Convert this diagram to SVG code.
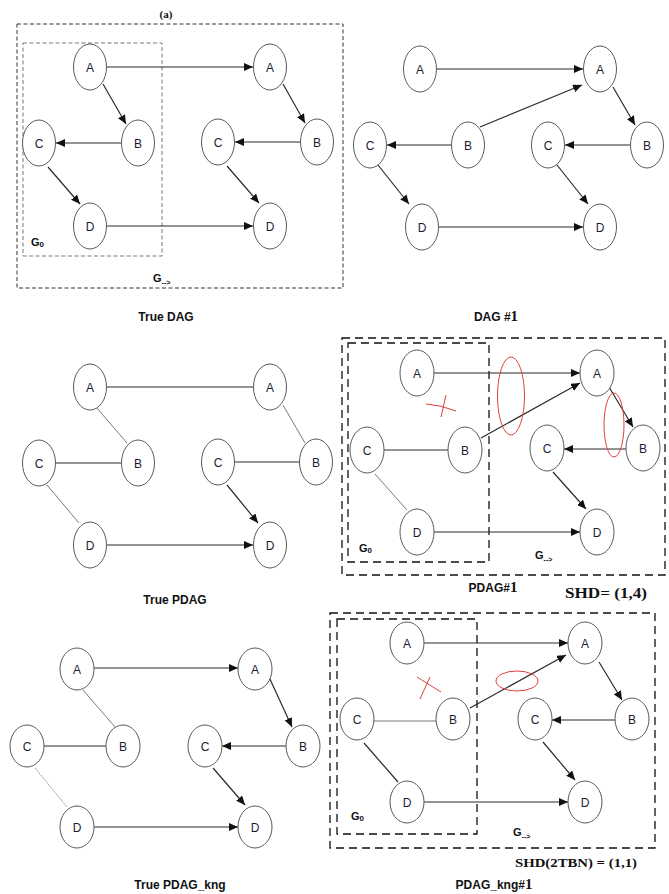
<svg xmlns="http://www.w3.org/2000/svg" width="669" height="894" viewBox="0 0 669 894">
<style>
.bg{fill:#ffffff}
.node ellipse{fill:#ffffff;stroke:#5a5a5a;stroke-width:1}
.node text{font-family:"Liberation Sans","Open Sans",sans-serif;font-size:12px;fill:#1c1c30;text-anchor:middle}
.e{stroke:#2a2a2a;stroke-width:1.2;fill:none}
.d{marker-end:url(#arr)}
.u{stroke:#2a2a2a;stroke-width:1.2}
.ul{stroke:#6a6a6a;stroke-width:0.9}
.dot{stroke:#8a8a8a;stroke-width:0.9;stroke-dasharray:2 1}
.box1{fill:none;stroke:#333;stroke-width:1;stroke-dasharray:4 2.5}
.box1i{fill:none;stroke:#777;stroke-width:1;stroke-dasharray:4 2.5}
.box2{fill:none;stroke:#111;stroke-width:1.3;stroke-dasharray:8 5}
.glab{font-family:"Liberation Sans","Open Sans",sans-serif;font-weight:bold;font-size:11px;fill:#111}
.cap{font-family:"Liberation Sans","Open Sans",sans-serif;font-weight:bold;font-size:12px;fill:#111;text-anchor:middle}
.ser{font-family:"Liberation Serif",serif;font-weight:bold;fill:#111}
.red{fill:none;stroke:#e0403c;stroke-width:1}
</style>
<defs>
<marker id="arr" markerUnits="userSpaceOnUse" viewBox="0 0 9 8" markerWidth="9" markerHeight="8" refX="9" refY="4" orient="auto">
<path d="M0,0 L9,4 L0,8 z" fill="#111"/>
</marker>
</defs>
<rect class="bg" x="0" y="0" width="669" height="894"/>

<!-- Frames and labels -->
<g id="frames">
<text class="ser" x="166" y="18" font-size="11" text-anchor="middle">(a)</text>
<rect class="box1" x="17" y="24" width="326" height="264"/>
<rect class="box1i" x="23" y="43" width="139" height="213"/>
<text class="glab" x="31" y="246">G<tspan font-size="8" dy="1">0</tspan></text>
<text class="glab" x="153" y="282">G<tspan font-size="7" dy="3">--&gt;</tspan></text>

<rect class="box2" x="342" y="338" width="323" height="237"/>
<rect class="box2" x="348" y="343" width="141" height="219"/>
<text class="glab" x="359" y="552">G<tspan font-size="8" dy="1">0</tspan></text>
<text class="glab" x="535" y="559">G<tspan font-size="7" dy="3">--&gt;</tspan></text>

<rect class="box2" x="330" y="613" width="325" height="235"/>
<rect class="box2" x="337" y="619" width="140" height="215"/>
<text class="glab" x="351" y="820">G<tspan font-size="8" dy="1">0</tspan></text>
<text class="glab" x="513" y="836">G<tspan font-size="7" dy="3">--&gt;</tspan></text>
</g>

<g id="captions">
<text class="cap" x="166" y="321">True DAG</text>
<text class="cap" x="496" y="321">DAG #<tspan class="ser" font-size="15">1</tspan></text>
<text class="cap" x="175" y="604">True PDAG</text>
<text class="cap" x="493" y="592">PDAG#<tspan class="ser" font-size="15">1</tspan></text>
<text class="ser" x="565" y="598" font-size="15" textLength="82" lengthAdjust="spacingAndGlyphs">SHD= (1,4)</text>
<text class="cap" x="180" y="889">True PDAG_kng</text>
<text class="cap" x="494" y="889">PDAG_kng#<tspan class="ser" font-size="15">1</tspan></text>
<text class="ser" x="515" y="867" font-size="13" textLength="122" lengthAdjust="spacingAndGlyphs">SHD(2TBN) = (1,1)</text>
</g>

<!-- Connectors -->
<g id="connectors">
<!-- Panel 1: True DAG -->
<line class="e d" x1="107" y1="67" x2="253" y2="67"/>
<line class="e d" x1="103" y1="84" x2="126" y2="124"/>
<line class="e d" x1="121" y1="143" x2="56" y2="143"/>
<line class="e d" x1="48" y1="167" x2="80" y2="204"/>
<line class="e d" x1="107" y1="226" x2="253" y2="226"/>
<line class="e d" x1="283" y1="84" x2="305" y2="123"/>
<line class="e d" x1="300" y1="142" x2="235" y2="142"/>
<line class="e d" x1="227" y1="166" x2="259" y2="203"/>
<!-- Panel 2: DAG #1 -->
<line class="e d" x1="437" y1="69" x2="583" y2="69"/>
<line class="e d" x1="480" y1="127" x2="582" y2="85"/>
<line class="e d" x1="451" y1="145" x2="387" y2="145"/>
<line class="e d" x1="378" y1="165" x2="409" y2="204"/>
<line class="e d" x1="439" y1="227" x2="583" y2="227"/>
<line class="e d" x1="613" y1="87" x2="635" y2="125"/>
<line class="e d" x1="630" y1="145" x2="565" y2="145"/>
<line class="e d" x1="557" y1="165" x2="588" y2="204"/>
<!-- Panel 3: True PDAG -->
<line class="u" x1="107" y1="387" x2="253" y2="387"/>
<line class="ul" x1="96" y1="407" x2="127" y2="443"/>
<line class="u" x1="56" y1="463" x2="121" y2="463"/>
<line class="ul" x1="47" y1="485" x2="79" y2="523"/>
<line class="e d" x1="107" y1="545" x2="253" y2="545"/>
<line class="ul" x1="283" y1="405" x2="305" y2="443"/>
<line class="u" x1="235" y1="462" x2="299" y2="462"/>
<line class="e d" x1="227" y1="485" x2="258" y2="523"/>
<!-- Panel 4: PDAG#1 -->
<line class="e d" x1="434" y1="373" x2="580" y2="373"/>
<line class="e d" x1="481" y1="438" x2="580" y2="383"/>
<line class="u" x1="384" y1="450" x2="448" y2="450"/>
<line class="ul" x1="375" y1="474" x2="407" y2="510"/>
<line class="e d" x1="434" y1="532" x2="580" y2="532"/>
<line class="e d" x1="609" y1="387" x2="633" y2="427"/>
<line class="e d" x1="626" y1="449" x2="564" y2="449"/>
<line class="e d" x1="553" y1="472" x2="586" y2="509"/>
<!-- Panel 5: True PDAG_kng -->
<line class="e d" x1="94" y1="668" x2="238" y2="668"/>
<line class="ul" x1="83" y1="690" x2="115" y2="727"/>
<line class="u" x1="44" y1="746" x2="106" y2="746"/>
<line class="dot" x1="35" y1="768" x2="67" y2="807"/>
<line class="e d" x1="94" y1="827" x2="238" y2="827"/>
<line class="e d" x1="269" y1="677" x2="292" y2="727"/>
<line class="e d" x1="286" y1="746" x2="222" y2="746"/>
<line class="e d" x1="213" y1="768" x2="245" y2="805"/>
<!-- Panel 6: PDAG_kng#1 -->
<line class="e d" x1="424" y1="643" x2="568" y2="643"/>
<line class="e d" x1="470" y1="708" x2="566" y2="655"/>
<line class="ul" x1="374" y1="721" x2="436" y2="721"/>
<line class="u" x1="364" y1="743" x2="398" y2="782"/>
<line class="e d" x1="424" y1="802" x2="568" y2="802"/>
<line class="e d" x1="599" y1="662" x2="622" y2="700"/>
<line class="e d" x1="615" y1="720" x2="552" y2="720"/>
<line class="e d" x1="543" y1="742" x2="575" y2="780"/>
</g>

<!-- Red annotations -->
<g id="annotations">
<ellipse class="red" cx="511" cy="396" rx="13.5" ry="39"/>
<ellipse class="red" cx="614" cy="425" rx="10" ry="32"/>
<path class="red" d="M426,404 Q441,405 456,411"/>
<path class="red" d="M446,395 L441,417"/>
<ellipse class="red" cx="517" cy="681" rx="21" ry="10"/>
<path class="red" d="M417,677 L441,692"/>
<path class="red" d="M430,677 L420,699"/>
</g>

<!-- Panel 1 nodes -->
<g id="p1-A1" class="node"><ellipse cx="90" cy="67" rx="16.5" ry="23"/><text x="90" y="71.5">A</text></g>
<g id="p1-B1" class="node"><ellipse cx="138" cy="143" rx="16.5" ry="23"/><text x="138" y="147.5">B</text></g>
<g id="p1-C1" class="node"><ellipse cx="39" cy="143" rx="16.5" ry="23"/><text x="39" y="147.5">C</text></g>
<g id="p1-D1" class="node"><ellipse cx="90" cy="226" rx="16.5" ry="23"/><text x="90" y="230.5">D</text></g>
<g id="p1-A2" class="node"><ellipse cx="270" cy="67" rx="16.5" ry="23"/><text x="270" y="71.5">A</text></g>
<g id="p1-B2" class="node"><ellipse cx="317" cy="142" rx="16.5" ry="23"/><text x="317" y="146.5">B</text></g>
<g id="p1-C2" class="node"><ellipse cx="218" cy="142" rx="16.5" ry="23"/><text x="218" y="146.5">C</text></g>
<g id="p1-D2" class="node"><ellipse cx="270" cy="226" rx="16.5" ry="23"/><text x="270" y="230.5">D</text></g>

<!-- Panel 2 nodes -->
<g id="p2-A1" class="node"><ellipse cx="420" cy="69" rx="16.5" ry="23"/><text x="420" y="73.5">A</text></g>
<g id="p2-B1" class="node"><ellipse cx="468" cy="145" rx="16.5" ry="23"/><text x="468" y="149.5">B</text></g>
<g id="p2-C1" class="node"><ellipse cx="370" cy="145" rx="16.5" ry="23"/><text x="370" y="149.5">C</text></g>
<g id="p2-D1" class="node"><ellipse cx="422" cy="227" rx="16.5" ry="23"/><text x="422" y="231.5">D</text></g>
<g id="p2-A2" class="node"><ellipse cx="600" cy="69" rx="16.5" ry="23"/><text x="600" y="73.5">A</text></g>
<g id="p2-B2" class="node"><ellipse cx="647" cy="145" rx="16.5" ry="23"/><text x="647" y="149.5">B</text></g>
<g id="p2-C2" class="node"><ellipse cx="548" cy="145" rx="16.5" ry="23"/><text x="548" y="149.5">C</text></g>
<g id="p2-D2" class="node"><ellipse cx="600" cy="227" rx="16.5" ry="23"/><text x="600" y="231.5">D</text></g>

<!-- Panel 3 nodes -->
<g id="p3-A1" class="node"><ellipse cx="90" cy="387" rx="16.5" ry="23"/><text x="90" y="391.5">A</text></g>
<g id="p3-B1" class="node"><ellipse cx="138" cy="463" rx="16.5" ry="23"/><text x="138" y="467.5">B</text></g>
<g id="p3-C1" class="node"><ellipse cx="39" cy="463" rx="16.5" ry="23"/><text x="39" y="467.5">C</text></g>
<g id="p3-D1" class="node"><ellipse cx="90" cy="545" rx="16.5" ry="23"/><text x="90" y="549.5">D</text></g>
<g id="p3-A2" class="node"><ellipse cx="270" cy="387" rx="16.5" ry="23"/><text x="270" y="391.5">A</text></g>
<g id="p3-B2" class="node"><ellipse cx="316" cy="462" rx="16.5" ry="23"/><text x="316" y="466.5">B</text></g>
<g id="p3-C2" class="node"><ellipse cx="218" cy="462" rx="16.5" ry="23"/><text x="218" y="466.5">C</text></g>
<g id="p3-D2" class="node"><ellipse cx="270" cy="545" rx="16.5" ry="23"/><text x="270" y="549.5">D</text></g>

<!-- Panel 4 nodes -->
<g id="p4-A1" class="node"><ellipse cx="417" cy="373" rx="17" ry="23"/><text x="417" y="377.5">A</text></g>
<g id="p4-B1" class="node"><ellipse cx="465" cy="450" rx="17" ry="23"/><text x="465" y="454.5">B</text></g>
<g id="p4-C1" class="node"><ellipse cx="367" cy="450" rx="17" ry="23"/><text x="367" y="454.5">C</text></g>
<g id="p4-D1" class="node"><ellipse cx="417" cy="532" rx="17" ry="23"/><text x="417" y="536.5">D</text></g>
<g id="p4-A2" class="node"><ellipse cx="597" cy="373" rx="17" ry="23"/><text x="597" y="377.5">A</text></g>
<g id="p4-B2" class="node"><ellipse cx="643" cy="448" rx="17" ry="23"/><text x="643" y="452.5">B</text></g>
<g id="p4-C2" class="node"><ellipse cx="547" cy="448" rx="17" ry="23"/><text x="547" y="452.5">C</text></g>
<g id="p4-D2" class="node"><ellipse cx="597" cy="532" rx="17" ry="23"/><text x="597" y="536.5">D</text></g>

<!-- Panel 5 nodes -->
<g id="p5-A1" class="node"><ellipse cx="77" cy="669" rx="17" ry="21"/><text x="77" y="673.5">A</text></g>
<g id="p5-B1" class="node"><ellipse cx="123" cy="746" rx="17" ry="21"/><text x="123" y="750.5">B</text></g>
<g id="p5-C1" class="node"><ellipse cx="27" cy="746" rx="17" ry="21"/><text x="27" y="750.5">C</text></g>
<g id="p5-D1" class="node"><ellipse cx="77" cy="827" rx="17" ry="21"/><text x="77" y="831.5">D</text></g>
<g id="p5-A2" class="node"><ellipse cx="255" cy="669" rx="17" ry="21"/><text x="255" y="673.5">A</text></g>
<g id="p5-B2" class="node"><ellipse cx="303" cy="746" rx="17" ry="21"/><text x="303" y="750.5">B</text></g>
<g id="p5-C2" class="node"><ellipse cx="205" cy="746" rx="17" ry="21"/><text x="205" y="750.5">C</text></g>
<g id="p5-D2" class="node"><ellipse cx="255" cy="827" rx="17" ry="21"/><text x="255" y="831.5">D</text></g>

<!-- Panel 6 nodes -->
<g id="p6-A1" class="node"><ellipse cx="407" cy="643" rx="17" ry="21"/><text x="407" y="647.5">A</text></g>
<g id="p6-B1" class="node"><ellipse cx="453" cy="719" rx="17" ry="21"/><text x="453" y="723.5">B</text></g>
<g id="p6-C1" class="node"><ellipse cx="357" cy="719" rx="17" ry="21"/><text x="357" y="723.5">C</text></g>
<g id="p6-D1" class="node"><ellipse cx="407" cy="802" rx="17" ry="21"/><text x="407" y="806.5">D</text></g>
<g id="p6-A2" class="node"><ellipse cx="585" cy="643" rx="17" ry="21"/><text x="585" y="647.5">A</text></g>
<g id="p6-B2" class="node"><ellipse cx="632" cy="719" rx="17" ry="21"/><text x="632" y="723.5">B</text></g>
<g id="p6-C2" class="node"><ellipse cx="535" cy="719" rx="17" ry="21"/><text x="535" y="723.5">C</text></g>
<g id="p6-D2" class="node"><ellipse cx="585" cy="802" rx="17" ry="21"/><text x="585" y="806.5">D</text></g>
</svg>
